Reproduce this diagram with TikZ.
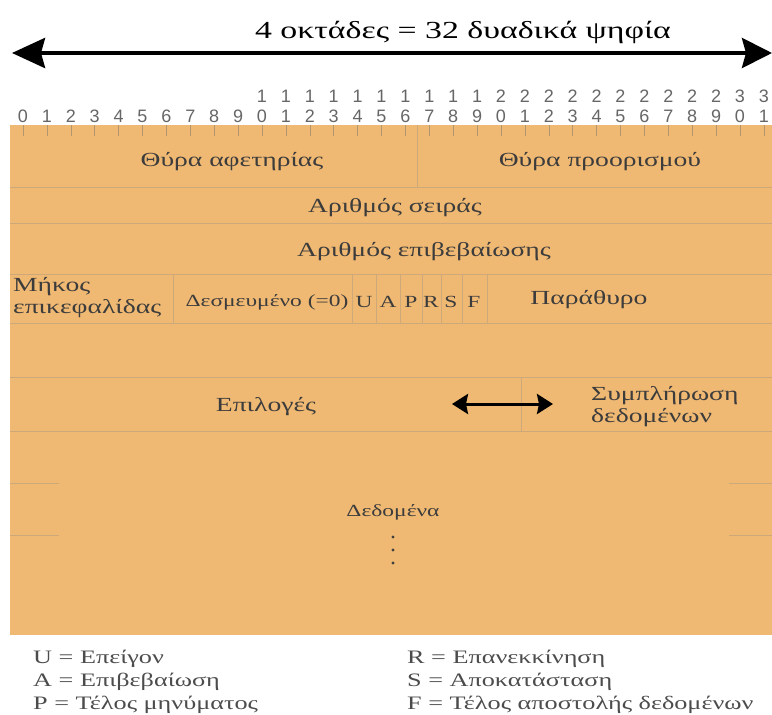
\documentclass[tikz,border=0pt]{standalone}
\usepackage{fontspec}
\setmainfont{Liberation Serif}[FakeStretch=1.38]
\newfontfamily\bitfont{Liberation Sans}
\usepackage{xcolor}
\usepackage{tikz}
\usetikzlibrary{arrows.meta,positioning}

\definecolor{hdrfill}{RGB}{240,185,115}
\definecolor{hdrline}{RGB}{205,168,120}
\definecolor{hdrtick}{RGB}{180,150,110}
\definecolor{hdrtext}{RGB}{60,60,60}

\tikzset{
  field/.style={font=\fontsize{20}{22}\selectfont, text=hdrtext, inner sep=0pt},
  flag/.style={font=\fontsize{17}{20}\selectfont, text=hdrtext, inner sep=0pt},
  bitnum/.style={font=\bitfont\fontsize{18}{18}\selectfont, text=black!60, inner sep=0pt},
  legend/.style={font=\fontsize{19}{22}\selectfont, text=black!70, anchor=base west, inner sep=0pt},
  rowline/.style={hdrline, line width=1pt},
}

\begin{document}
\begin{tikzpicture}[x=1pt,y=-1pt]
    \useasboundingbox (0,0) rectangle (772,715);

    % Width arrow
    \node[font=\fontsize{24.5}{28}\selectfont, inner sep=0pt] (width) at (463,32) {4 οκτάδες = 32 δυαδικά ψηφία};
    \coordinate (wl) at (12,53);
    \coordinate (wr) at (772,53);
    \draw[line width=4pt, {Stealth[length=33pt,width=30pt,inset=4pt]}-{Stealth[length=30pt,width=30pt,inset=4pt]}] (wl) -- (wr);

    % Header body
    \fill[hdrfill] (10,125) rectangle (772,635);

    % Bit numbers and ticks
    \foreach \b in {0,...,31} {
        \pgfmathsetmacro{\bx}{23+23.9*\b}
        \pgfmathtruncatemacro{\units}{mod(\b,10)}
        \pgfmathtruncatemacro{\tens}{\b/10}
        \node[bitnum] (u\b) at (\bx,116) {\units};
        \ifnum\b>9 \node[bitnum] (t\b) at (\bx,96) {\tens}; \fi
        \draw[hdrtick, line width=0.6pt] (\bx,125) -- (\bx,136);
    }

    % Row lines
    \foreach \y in {187,223,274,323,377,431}
        \draw[rowline] (10,\y) -- (772,\y);
    \foreach \y in {483,535} {
        \draw[rowline] (10,\y) -- (59,\y);
        \draw[rowline] (729,\y) -- (772,\y);
    }

    % Field dividers
    \draw[rowline] (417,125) -- (417,187);
    \foreach \x in {173,352,376,400,422,441,462,487}
        \draw[rowline] (\x,274) -- (\x,323);
    \draw[rowline] (521,377) -- (521,431);

    % Fields
    \node[field] (src) at (232,162) {Θύρα αφετηρίας};
    \node[field] (dst) at (600,162) {Θύρα προορισμού};
    \node[field] (seq) at (395,208) {Αριθμός σειράς};
    \node[field] (ack) at (424,252) {Αριθμός επιβεβαίωσης};
    \node[field, anchor=west, align=left] (hlen) at (13,298) {Μήκος\\επικεφαλίδας};
    \node[flag] (resv) at (267,302) {Δεσμευμένο (=0)};
    \foreach \f/\x in {U/364, A/388, P/411, R/431, S/451, F/474}
        \node[flag] (flag\f) at (\x,302) {\f};
    \node[field] (win) at (589,300) {Παράθυρο};
    \node[field] (opt) at (266,407) {Επιλογές};
    \node[field, anchor=west, align=left] (pad) at (591,407) {Συμπλήρωση\\δεδομένων};
    \node[flag] (data) at (393,512) {Δεδομένα};
    \foreach \y in {537,550,563}
        \fill[black!75] (393,\y) circle (1.6pt);

    % Options / padding arrow
    \coordinate (ol) at (452,404);
    \coordinate (or) at (553,404);
    \draw[line width=3pt, {Stealth[length=16pt,width=20pt,inset=2pt]}-{Stealth[length=16pt,width=20pt,inset=2pt]}] (ol) -- (or);

    % Legend
    \node[legend] (lu) at (33,663) {U = Επείγον};
    \node[legend] (la) at (33,686) {A = Επιβεβαίωση};
    \node[legend] (lp) at (33,709) {P = Τέλος μηνύματος};
    \node[legend] (lr) at (407,663) {R = Επανεκκίνηση};
    \node[legend] (ls) at (407,686) {S = Αποκατάσταση};
    \node[legend] (lf) at (407,709) {F = Τέλος αποστολής δεδομένων};
\end{tikzpicture}
\end{document}
